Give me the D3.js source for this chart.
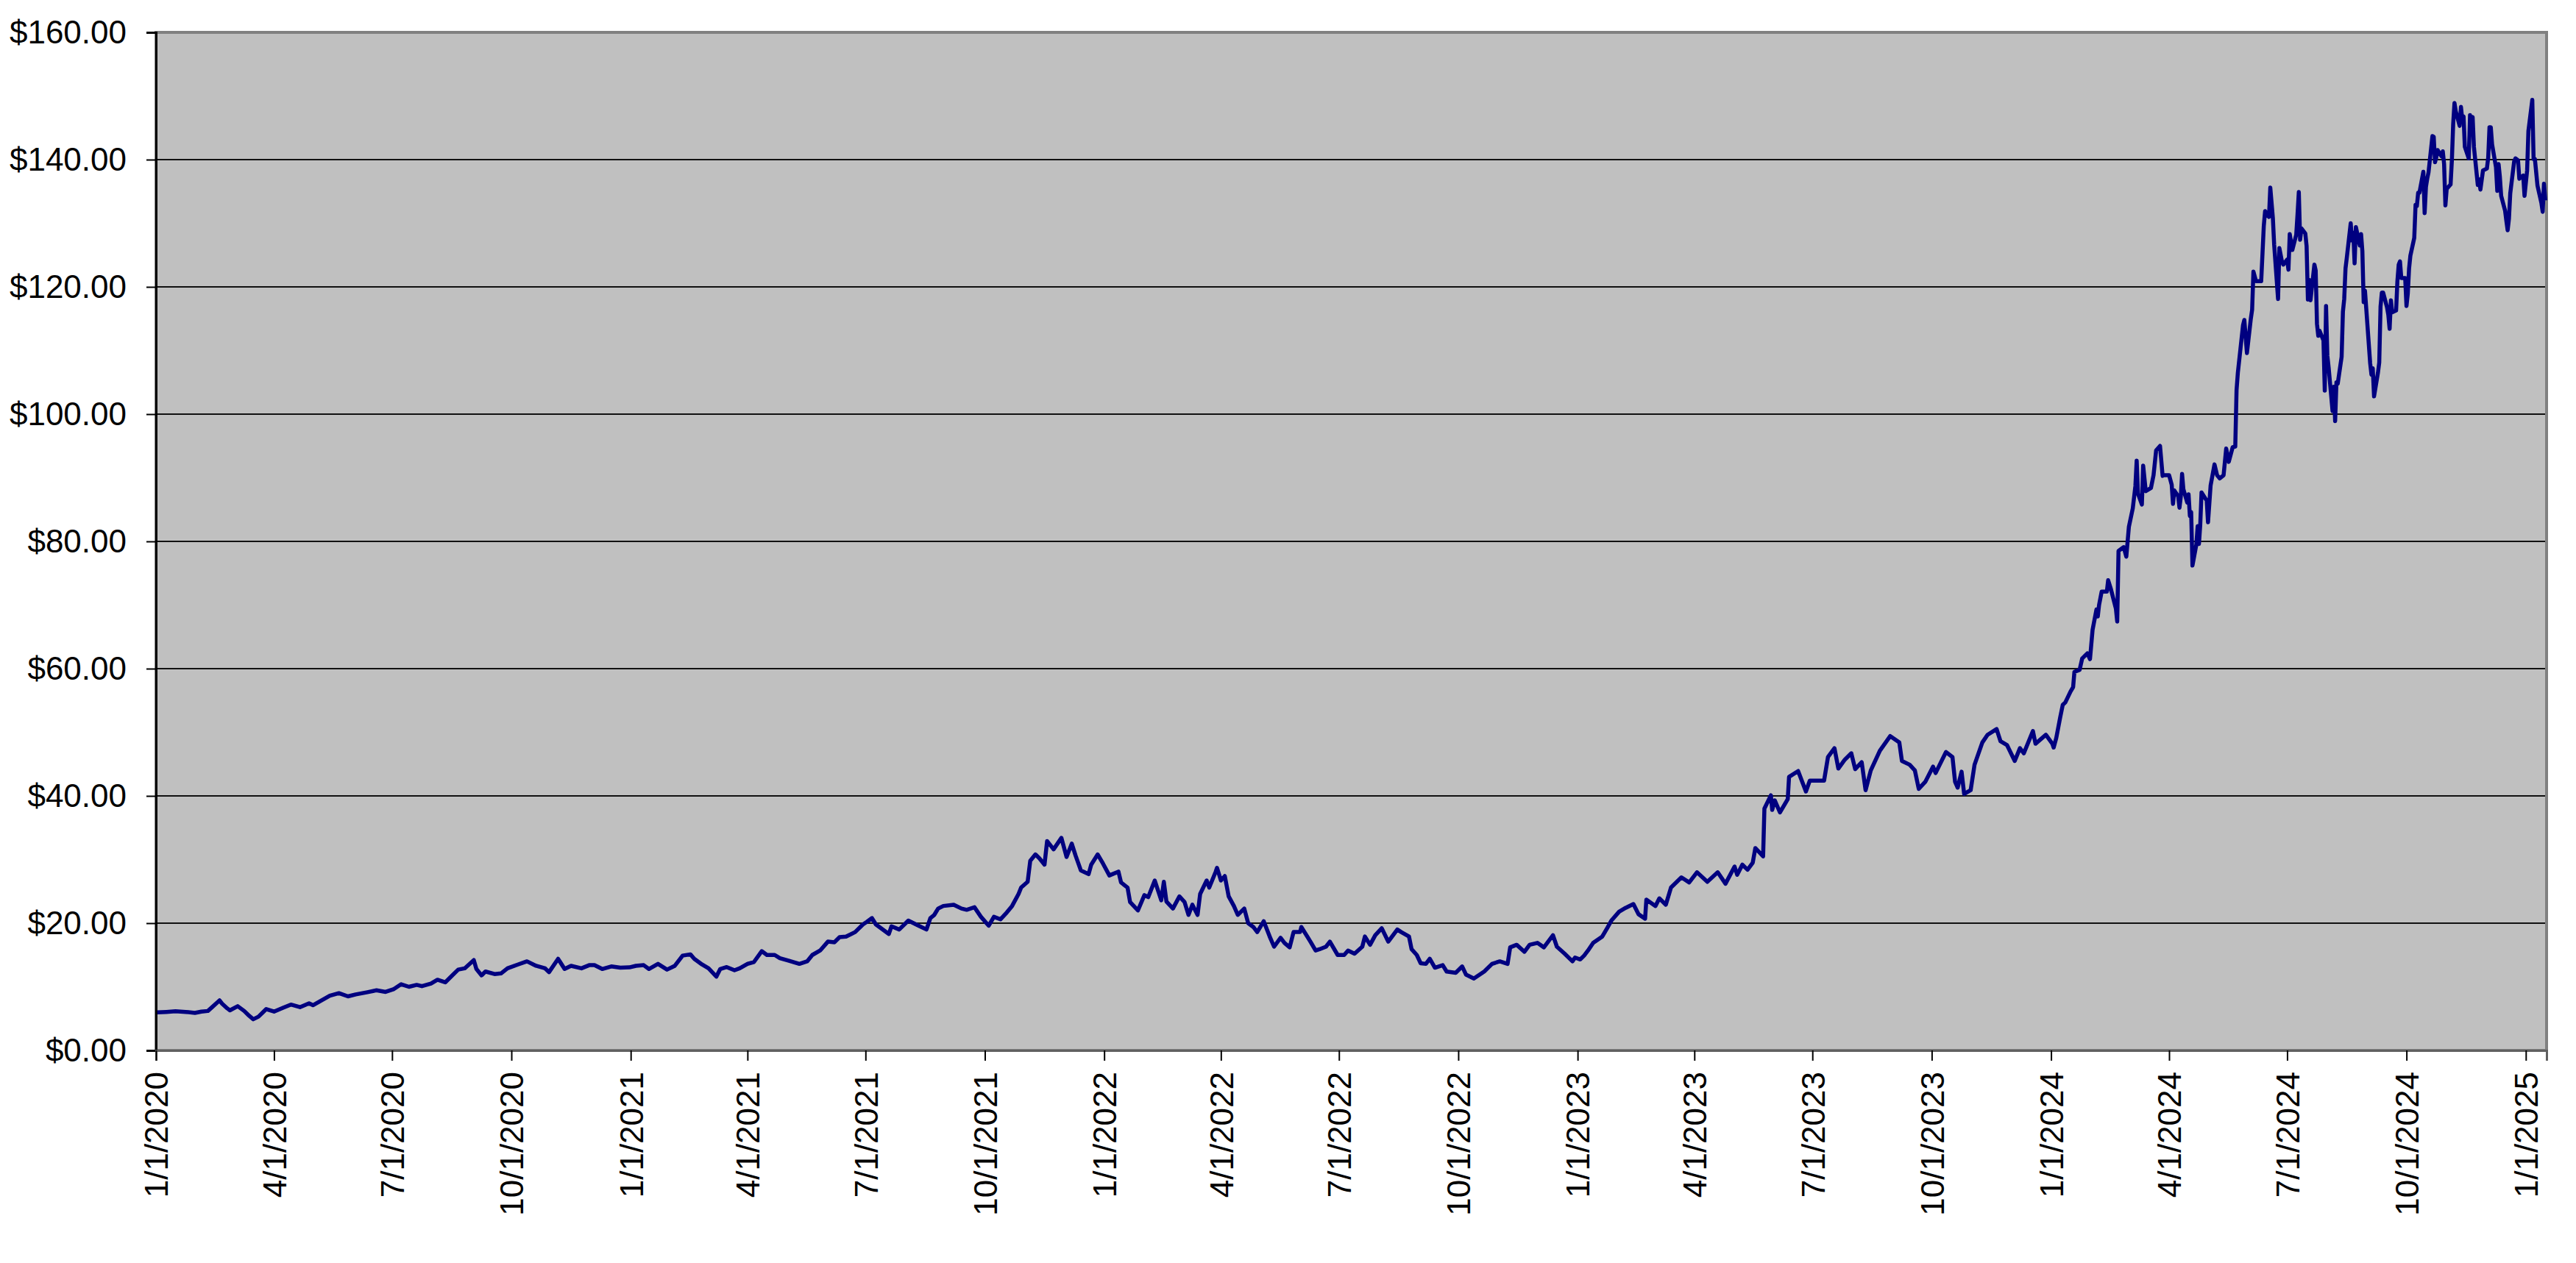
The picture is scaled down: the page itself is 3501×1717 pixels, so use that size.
<!DOCTYPE html>
<html>
<head>
<meta charset="utf-8">
<script src="https://cdn.jsdelivr.net/npm/d3@7"></script>
<style>
  body { margin: 0; background: #fff; }
</style>
</head>
<body>
<div id="chart"></div>
<script>
// closing prices, [month-day, price] per year
var prices2020 = [
  ["01-02", 5.97], ["01-09", 6.05], ["01-16", 6.15], ["01-24", 6.05], ["01-31", 5.9],
  ["02-05", 6.1], ["02-10", 6.2], ["02-13", 6.75], ["02-19", 7.86], ["02-21", 7.35],
  ["02-25", 6.6], ["02-27", 6.3], ["03-04", 6.95], ["03-09", 6.2], ["03-12", 5.6],
  ["03-16", 4.9], ["03-20", 5.3], ["03-24", 6.1], ["03-26", 6.5], ["04-01", 6.1],
  ["04-08", 6.7], ["04-14", 7.2], ["04-21", 6.8], ["04-28", 7.4], ["05-01", 7.1],
  ["05-08", 7.9], ["05-14", 8.6], ["05-21", 9.0], ["05-28", 8.5], ["06-03", 8.8],
  ["06-12", 9.15], ["06-19", 9.45], ["06-26", 9.2], ["07-02", 9.6], ["07-08", 10.4],
  ["07-14", 10.0], ["07-20", 10.3], ["07-24", 10.1], ["07-31", 10.5], ["08-05", 11.1],
  ["08-11", 10.7], ["08-17", 11.9], ["08-21", 12.7], ["08-26", 12.9], ["09-02", 14.2],
  ["09-04", 12.8], ["09-08", 11.8], ["09-11", 12.4], ["09-18", 12.0], ["09-23", 12.1],
  ["09-28", 12.9], ["10-06", 13.5], ["10-13", 14.0], ["10-20", 13.3], ["10-27", 12.9],
  ["10-30", 12.3], ["11-06", 14.4], ["11-11", 12.8], ["11-16", 13.3], ["11-24", 12.9],
  ["11-30", 13.4], ["12-04", 13.4], ["12-10", 12.8], ["12-17", 13.2], ["12-24", 13.0],
  ["12-31", 13.05]
];
var prices2021 = [
  ["01-05", 13.3], ["01-11", 13.4], ["01-15", 12.8], ["01-22", 13.6], ["01-29", 12.7],
  ["02-04", 13.3], ["02-10", 14.9], ["02-16", 15.1], ["02-19", 14.4], ["02-25", 13.5],
  ["03-02", 12.9], ["03-08", 11.6], ["03-11", 12.8], ["03-16", 13.1], ["03-22", 12.6],
  ["03-26", 12.9], ["04-01", 13.6], ["04-06", 13.9], ["04-12", 15.6], ["04-16", 15.0],
  ["04-22", 15.0], ["04-26", 14.5], ["05-03", 14.1], ["05-11", 13.6], ["05-17", 14.0],
  ["05-21", 15.0], ["05-27", 15.7], ["06-02", 17.1], ["06-07", 17.0], ["06-11", 17.8],
  ["06-16", 17.9], ["06-23", 18.6], ["06-29", 19.8], ["07-02", 20.2], ["07-06", 20.8],
  ["07-09", 19.8], ["07-19", 18.3], ["07-21", 19.5], ["07-27", 19.0], ["08-03", 20.4],
  ["08-11", 19.6], ["08-17", 19.0], ["08-20", 20.8], ["08-23", 21.3], ["08-26", 22.3],
  ["08-30", 22.7], ["09-07", 22.9], ["09-13", 22.3], ["09-17", 22.1], ["09-23", 22.5],
  ["09-28", 21.0], ["10-04", 19.6], ["10-08", 21.0], ["10-13", 20.6], ["10-18", 21.7],
  ["10-22", 22.7], ["10-27", 24.6], ["10-29", 25.6], ["11-03", 26.5], ["11-05", 29.8],
  ["11-09", 30.8], ["11-12", 30.2], ["11-16", 29.2], ["11-18", 32.9], ["11-23", 31.6],
  ["11-29", 33.4], ["12-03", 30.4], ["12-07", 32.5], ["12-10", 30.6], ["12-14", 28.3],
  ["12-20", 27.7], ["12-22", 29.2], ["12-27", 30.8], ["12-31", 29.4]
];
var prices2022 = [
  ["01-05", 27.5], ["01-12", 28.1], ["01-14", 26.4], ["01-19", 25.6], ["01-21", 23.3],
  ["01-27", 22.0], ["02-01", 24.4], ["02-04", 24.1], ["02-09", 26.7], ["02-14", 23.6],
  ["02-16", 26.5], ["02-18", 23.4], ["02-23", 22.3], ["02-28", 24.2], ["03-04", 23.3],
  ["03-07", 21.3], ["03-10", 22.9], ["03-14", 21.3], ["03-16", 24.6], ["03-21", 26.7],
  ["03-23", 25.6], ["03-28", 28.1], ["03-29", 28.7], ["04-01", 26.7], ["04-04", 27.4],
  ["04-07", 24.2], ["04-11", 22.7], ["04-14", 21.3], ["04-19", 22.3], ["04-22", 20.0],
  ["04-26", 19.4], ["04-29", 18.6], ["05-04", 20.3], ["05-09", 17.7], ["05-12", 16.3],
  ["05-17", 17.7], ["05-20", 16.9], ["05-24", 16.2], ["05-27", 18.6], ["06-01", 18.6],
  ["06-02", 19.4], ["06-09", 17.1], ["06-13", 15.7], ["06-16", 15.9], ["06-21", 16.3],
  ["06-24", 17.1], ["06-30", 15.0], ["07-05", 15.0], ["07-08", 15.7], ["07-13", 15.2],
  ["07-19", 16.3], ["07-21", 17.9], ["07-25", 16.6], ["07-29", 18.1], ["08-03", 19.2],
  ["08-08", 17.1], ["08-15", 19.0], ["08-18", 18.6], ["08-24", 17.9], ["08-26", 15.9],
  ["08-30", 15.0], ["09-02", 13.7], ["09-06", 13.6], ["09-09", 14.4], ["09-13", 13.0],
  ["09-19", 13.4], ["09-22", 12.4], ["09-29", 12.2], ["10-04", 13.2], ["10-07", 11.9],
  ["10-13", 11.3], ["10-21", 12.4], ["10-27", 13.6], ["11-02", 14.0], ["11-08", 13.6],
  ["11-10", 16.2], ["11-15", 16.6], ["11-21", 15.5], ["11-25", 16.6], ["12-01", 16.9],
  ["12-06", 16.2], ["12-13", 18.1], ["12-16", 16.3], ["12-22", 15.2], ["12-28", 14.0],
  ["12-30", 14.6]
];
var prices2023 = [
  ["01-03", 14.3], ["01-06", 14.9], ["01-09", 15.7], ["01-13", 16.9], ["01-20", 17.9],
  ["01-24", 19.3], ["01-27", 20.4], ["02-02", 21.8], ["02-07", 22.4], ["02-13", 23.0],
  ["02-17", 21.4], ["02-22", 20.7], ["02-23", 23.7], ["03-02", 22.7], ["03-05", 23.9],
  ["03-10", 22.9], ["03-14", 25.6], ["03-22", 27.2], ["03-28", 26.4], ["04-03", 28.0],
  ["04-11", 26.5], ["04-19", 28.0], ["04-25", 26.2], ["05-02", 28.9], ["05-04", 27.6],
  ["05-08", 29.2], ["05-12", 28.4], ["05-16", 29.5], ["05-18", 31.8], ["05-24", 30.5],
  ["05-25", 38.0], ["05-30", 40.1], ["05-31", 37.8], ["06-02", 39.3], ["06-06", 37.4],
  ["06-12", 39.5], ["06-13", 43.0], ["06-20", 43.9], ["06-26", 40.7], ["06-29", 42.4],
  ["07-10", 42.4], ["07-13", 46.1], ["07-18", 47.5], ["07-21", 44.3], ["07-26", 45.7],
  ["07-31", 46.7], ["08-03", 44.2], ["08-08", 45.3], ["08-11", 40.9], ["08-15", 44.0],
  ["08-22", 47.1], ["08-30", 49.4], ["09-06", 48.4], ["09-08", 45.5], ["09-14", 44.9],
  ["09-18", 44.0], ["09-21", 41.1], ["09-26", 42.2], ["10-02", 44.6], ["10-04", 43.6],
  ["10-12", 46.9], ["10-17", 46.1], ["10-19", 42.2], ["10-21", 41.3], ["10-24", 43.8],
  ["10-26", 40.3], ["10-31", 40.9], ["11-03", 44.9], ["11-09", 48.4], ["11-13", 49.6],
  ["11-20", 50.5], ["11-23", 48.6], ["11-28", 48.0], ["12-04", 45.5], ["12-08", 47.5],
  ["12-11", 46.7], ["12-18", 50.2], ["12-20", 48.2], ["12-28", 49.6]
];
var prices2024 = [
  ["01-02", 48.2], ["01-03", 47.6], ["01-05", 49.1], ["01-08", 52.3], ["01-10", 54.3],
  ["01-12", 54.7], ["01-16", 56.4], ["01-18", 57.1], ["01-19", 59.5], ["01-23", 59.8],
  ["01-25", 61.6], ["01-29", 62.4], ["01-31", 61.5], ["02-02", 66.1], ["02-05", 69.3],
  ["02-06", 68.2], ["02-07", 70.0], ["02-09", 72.1], ["02-13", 72.1], ["02-14", 73.9],
  ["02-16", 72.6], ["02-20", 69.4], ["02-21", 67.4], ["02-22", 78.5], ["02-26", 79.1],
  ["02-28", 77.6], ["03-01", 82.3], ["03-04", 85.2], ["03-06", 88.7], ["03-07", 92.7],
  ["03-08", 87.5], ["03-11", 85.8], ["03-12", 91.9], ["03-14", 87.9], ["03-18", 88.4],
  ["03-20", 90.4], ["03-22", 94.3], ["03-25", 95.0], ["03-27", 90.3], ["03-28", 90.4],
  ["04-01", 90.4], ["04-03", 88.9], ["04-04", 85.9], ["04-05", 88.0], ["04-08", 87.1],
  ["04-09", 85.3], ["04-10", 87.0], ["04-11", 90.6], ["04-12", 88.2], ["04-15", 86.1],
  ["04-16", 87.4], ["04-17", 84.0], ["04-18", 84.6], ["04-19", 76.2], ["04-22", 79.5],
  ["04-23", 82.4], ["04-24", 79.6], ["04-25", 82.6], ["04-26", 87.7], ["04-30", 86.4],
  ["05-01", 83.0], ["05-03", 88.8], ["05-06", 92.1], ["05-08", 90.4], ["05-10", 89.9],
  ["05-13", 90.4], ["05-15", 94.6], ["05-17", 92.5], ["05-20", 94.8], ["05-22", 94.9],
  ["05-23", 103.8], ["05-24", 106.5], ["05-28", 114.0], ["05-29", 114.8], ["05-31", 109.6],
  ["06-03", 115.0], ["06-04", 116.4], ["06-05", 122.4], ["06-07", 120.9], ["06-11", 120.9],
  ["06-13", 129.6], ["06-14", 131.9], ["06-17", 131.0], ["06-18", 135.6], ["06-20", 130.8],
  ["06-21", 126.6], ["06-24", 118.1], ["06-25", 126.1], ["06-27", 124.0], ["06-28", 123.5],
  ["07-01", 124.3], ["07-02", 122.7], ["07-03", 128.3], ["07-05", 125.8], ["07-08", 128.2],
  ["07-09", 131.4], ["07-10", 134.9], ["07-11", 127.4], ["07-12", 129.2], ["07-15", 128.4],
  ["07-16", 126.4], ["07-17", 118.0], ["07-18", 121.1], ["07-19", 117.9], ["07-22", 123.5],
  ["07-23", 122.6], ["07-24", 114.2], ["07-25", 112.3], ["07-26", 113.1], ["07-29", 111.6],
  ["07-30", 103.7], ["07-31", 117.0], ["08-01", 109.2], ["08-02", 107.3], ["08-05", 100.5],
  ["08-06", 104.3], ["08-07", 98.9], ["08-08", 105.0], ["08-09", 104.8], ["08-12", 109.0],
  ["08-13", 116.1], ["08-14", 118.1], ["08-15", 122.9], ["08-16", 124.6], ["08-19", 130.0],
  ["08-20", 127.3], ["08-21", 128.5], ["08-22", 123.7], ["08-23", 129.4], ["08-26", 126.5],
  ["08-27", 128.3], ["08-28", 125.6], ["08-29", 117.6], ["08-30", 119.4], ["09-03", 108.0],
  ["09-04", 106.2], ["09-05", 107.2], ["09-06", 102.8], ["09-09", 106.5], ["09-10", 108.1],
  ["09-11", 116.9], ["09-12", 119.1], ["09-13", 119.1], ["09-16", 116.8], ["09-17", 115.6],
  ["09-18", 113.4], ["09-19", 117.9], ["09-20", 116.0], ["09-23", 116.3], ["09-24", 120.9],
  ["09-25", 123.5], ["09-26", 124.0], ["09-27", 121.4], ["09-30", 121.4], ["10-01", 117.0],
  ["10-02", 118.9], ["10-03", 122.9], ["10-04", 124.9], ["10-07", 127.7], ["10-08", 132.9],
  ["10-09", 132.7], ["10-10", 134.8], ["10-11", 134.8], ["10-14", 138.1], ["10-15", 131.6],
  ["10-16", 135.7], ["10-17", 137.0], ["10-18", 138.0], ["10-21", 143.7], ["10-22", 143.6],
  ["10-23", 139.6], ["10-24", 140.4], ["10-25", 141.5], ["10-28", 140.5], ["10-29", 141.3],
  ["10-30", 139.3], ["10-31", 132.8], ["11-01", 135.4], ["11-04", 136.1], ["11-05", 139.9],
  ["11-06", 145.6], ["11-07", 148.9], ["11-08", 147.6], ["11-11", 145.3], ["11-12", 148.3],
  ["11-13", 146.3], ["11-14", 146.8], ["11-15", 142.0], ["11-18", 140.2], ["11-19", 147.0],
  ["11-20", 145.9], ["11-21", 146.7], ["11-22", 142.0], ["11-25", 136.0], ["11-26", 136.9],
  ["11-27", 135.3], ["11-29", 138.3], ["12-02", 138.6], ["12-03", 140.3], ["12-04", 145.1],
  ["12-05", 145.1], ["12-06", 142.4], ["12-09", 138.8], ["12-10", 135.1], ["12-11", 139.3],
  ["12-12", 137.3], ["12-13", 134.3], ["12-16", 132.0], ["12-17", 130.4], ["12-18", 128.9],
  ["12-19", 130.7], ["12-20", 134.7], ["12-23", 139.7], ["12-24", 140.2], ["12-26", 139.9],
  ["12-27", 137.0], ["12-30", 137.5], ["12-31", 134.3]
];
var prices2025 = [
  ["01-02", 138.3], ["01-03", 144.5], ["01-06", 149.4], ["01-07", 140.1], ["01-08", 140.1],
  ["01-10", 135.9], ["01-13", 133.2], ["01-14", 131.8], ["01-15", 136.2], ["01-16", 133.6]
];

var yTicks = [0, 20, 40, 60, 80, 100, 120, 140, 160];
var dateStart = "2020-01-01", dateEnd = "2025-01-17";

var parseDate = d3.timeParse("%Y-%m-%d");
var series = [];
[[2020, prices2020], [2021, prices2021], [2022, prices2022],
 [2023, prices2023], [2024, prices2024], [2025, prices2025]].forEach(function(yr) {
  yr[1].forEach(function(p) {
    series.push({ date: parseDate(yr[0] + "-" + p[0]), price: p[1] });
  });
});

var width = 3501, height = 1717;
var plot = { left: 212, right: 3461, top: 44, bottom: 1428 };

var svg = d3.select("#chart")
  .append("svg")
  .attr("width", width)
  .attr("height", height)
  .style("font-family", "'Liberation Sans', Arial, sans-serif");

svg.append("rect")
  .attr("width", width)
  .attr("height", height)
  .attr("fill", "#fff");

var x = d3.scaleTime()
  .domain([parseDate(dateStart), parseDate(dateEnd)])
  .range([plot.left, plot.right]);

var y = d3.scaleLinear()
  .domain([0, 160])
  .range([plot.bottom, plot.top]);

// plot area
svg.append("rect")
  .attr("x", plot.left)
  .attr("y", plot.top)
  .attr("width", plot.right - plot.left)
  .attr("height", plot.bottom - plot.top)
  .attr("fill", "#c0c0c0")
  .attr("stroke", "#808080")
  .attr("stroke-width", 4);

// horizontal gridlines
svg.append("g")
  .selectAll("line")
  .data(yTicks.filter(function(d) { return d > 0 && d < 160; }))
  .join("line")
  .attr("x1", plot.left)
  .attr("x2", plot.right - 2)
  .attr("y1", function(d) { return y(d); })
  .attr("y2", function(d) { return y(d); })
  .attr("stroke", "#111")
  .attr("stroke-width", 2);

// y axis
var yAxis = svg.append("g")
  .attr("transform", "translate(" + plot.left + ",0)")
  .call(d3.axisLeft(y).tickValues(yTicks).tickSize(13).tickPadding(27)
    .tickFormat(d3.format("$,.2f")));
yAxis.select(".domain").attr("stroke", "#000").attr("stroke-width", 3);
yAxis.selectAll(".tick line").attr("stroke", "#000").attr("stroke-width", 2);
yAxis.selectAll("text")
  .attr("fill", "#000")
  .style("font-size", "44px");

// x axis
var xAxis = svg.append("g")
  .attr("transform", "translate(0," + plot.bottom + ")")
  .call(d3.axisBottom(x)
    .ticks(d3.timeMonth.every(3))
    .tickSize(14)
    .tickFormat(d3.timeFormat("%-m/%-d/%Y")));
xAxis.select(".domain").attr("stroke", "#606060").attr("stroke-width", 3);
xAxis.selectAll(".tick line").attr("stroke", "#000").attr("stroke-width", 2);
xAxis.selectAll("text")
  .attr("fill", "#000")
  .style("font-size", "44px")
  .attr("text-anchor", "end")
  .attr("transform", "rotate(-90)")
  .attr("x", -29)
  .attr("y", 0)
  .attr("dy", "0.36em");

// price line
var line = d3.line()
  .x(function(d) { return x(d.date); })
  .y(function(d) { return y(d.price); });

svg.append("path")
  .datum(series)
  .attr("d", line)
  .attr("fill", "none")
  .attr("stroke", "#000080")
  .attr("stroke-width", 5.5)
  .attr("stroke-linejoin", "round");
</script>
</body>
</html>
